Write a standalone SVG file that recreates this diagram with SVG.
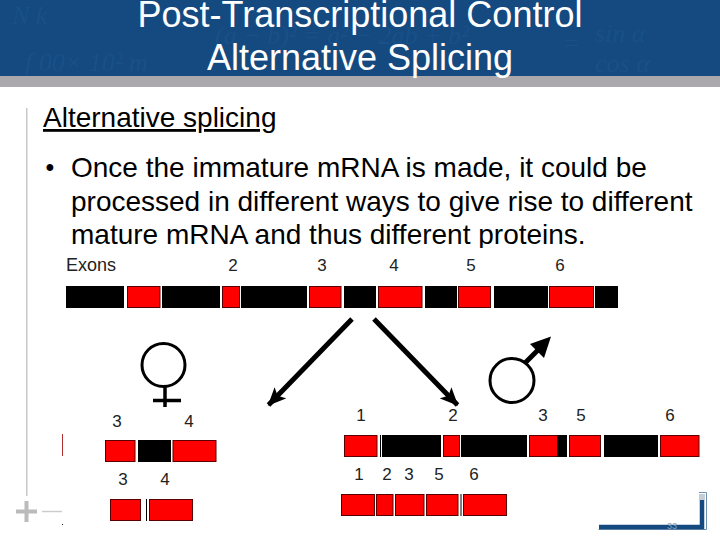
<svg xmlns="http://www.w3.org/2000/svg" width="720" height="540" viewBox="0 0 720 540">
<style>
text{font-family:"Liberation Sans",Arial,sans-serif}
.t{font-size:36px;fill:#fff;text-anchor:middle}
.w{font-family:"Liberation Serif",serif;font-style:italic;font-size:26px;fill:#195088}
.b{font-size:28px;fill:#000}
.n{font-size:17px;fill:#222;text-anchor:middle}
.k{fill:#000}
.r{fill:#f00;stroke:#5a0000;stroke-width:1}
.s{fill:none;stroke:#000;stroke-width:3}
.a{stroke:#000;stroke-width:5;fill:none}
</style>
<defs>
<marker id="h" markerUnits="userSpaceOnUse" markerWidth="20" markerHeight="16" refX="17" refY="8" orient="auto"><path d="M0 0L18 8L0 16L4 8Z" fill="#000"/></marker>
</defs>
<rect width="720" height="540" fill="#fff"/>
<g id="header">
<rect width="720" height="76" fill="#144a80"/>
<rect y="76" width="720" height="11" fill="#aaa8ad"/>
<text class="w" x="12" y="24">N k</text>
<text class="w" x="25" y="71">f 00× 10² m</text>
<text class="w" x="215" y="44">(a − b)² = a² − 2ab + b²</text>
<text class="w" x="595" y="42">sin α</text>
<text class="w" x="562" y="52">=</text>
<text class="w" x="595" y="72">cos α</text>
<text class="t" x="360" y="27">Post-Transcriptional Control</text>
<text class="t" x="360" y="70">Alternative Splicing</text>
</g>
<g id="decor">
<rect x="26" y="108" width="1.5" height="388" fill="#c8c8c8"/>
<path d="M16 511.500H37M26.500 501V522" stroke="#bbb" stroke-width="4" fill="none"/>
<path d="M42 511.500H62" stroke="#ccc" stroke-width="1.500" fill="none"/>
<path d="M598.500 529.500H706.500V492.500H699" stroke="#6f8fb0" stroke-width="1" fill="none"/>
<path d="M599 527H702V494" stroke="#144a80" stroke-width="4.500" fill="none"/>
<rect x="699.500" y="494" width="5" height="6" fill="#c4ccd4"/>
<text x="667" y="529" font-size="9" fill="#8aa2ba">33</text>
</g>
<g id="body">
<text class="b" x="43" y="127" text-decoration="underline">Alternative splicing</text>
<text x="45.500" y="176" font-size="25" fill="#000">•</text>
<text class="b" x="71" y="177">Once the immature mRNA is made, it could be</text>
<text class="b" x="71" y="211">processed in different ways to give rise to different</text>
<text class="b" x="71" y="244">mature mRNA and thus different proteins.</text>
<rect x="40" y="248" width="600" height="14" fill="#fff"/>
</g>
<g id="top-bar">
<text x="66" y="271" font-size="18" fill="#222">Exons</text>
<text class="n" x="233" y="271">2</text><text class="n" x="322" y="271">3</text><text class="n" x="394" y="271">4</text><text class="n" x="471" y="271">5</text><text class="n" x="560" y="271">6</text>
<rect class="k" x="66" y="286" width="58" height="22"/><rect class="r" x="127.500" y="286.500" width="32.500" height="21"/>
<rect class="k" x="162" y="286" width="58" height="22"/><rect class="r" x="222.500" y="286.500" width="17" height="21"/>
<rect class="k" x="241" y="286" width="66" height="22"/><rect class="r" x="309.500" y="286.500" width="31.500" height="21"/>
<rect class="k" x="344" y="286" width="32" height="22"/><rect class="r" x="378.500" y="286.500" width="43.500" height="21"/>
<rect class="k" x="425" y="286" width="32" height="22"/><rect class="r" x="458.500" y="286.500" width="32" height="21"/>
<rect class="k" x="494" y="286" width="54" height="22"/><rect class="r" x="549.500" y="286.500" width="44" height="21"/>
<rect class="k" x="595" y="286" width="23" height="22"/>
</g>
<g id="female-symbol">
<circle class="s" cx="163.500" cy="365" r="21.500"/>
<path d="M165 387V407M153 400.500H181" stroke="#000" stroke-width="3.500" fill="none"/>
</g>
<g id="male-symbol">
<circle class="s" cx="512" cy="380.500" r="22"/>
<path d="M525 363L541 347" stroke="#000" stroke-width="5" fill="none"/>
<path d="M551 336.500L544 358L530 344Z" fill="#000"/>
</g>
<g id="connectors">
<path class="a" d="M352 319L268.500 405" marker-end="url(#h)"/>
<path class="a" d="M374 319L457.500 405" marker-end="url(#h)"/>
</g>
<g id="female-isoforms">
<rect x="62" y="434" width="1" height="22" fill="#b03030"/>
<rect x="62" y="524" width="1" height="1" fill="#222"/>
<text class="n" x="117" y="427">3</text><text class="n" x="189" y="427">4</text>
<rect class="r" x="105.500" y="440.500" width="29.500" height="21"/><rect class="k" x="138" y="440" width="33" height="22"/><rect class="r" x="173" y="440.500" width="43" height="21"/>
<text class="n" x="123" y="485">3</text><text class="n" x="165" y="485">4</text>
<rect class="r" x="110.500" y="499.500" width="30" height="21"/><rect class="k" x="146" y="499" width="1" height="22"/><rect class="r" x="149.500" y="499.500" width="43" height="21"/>
</g>
<g id="male-isoforms">
<text class="n" x="361" y="421">1</text><text class="n" x="453" y="421">2</text><text class="n" x="543" y="421">3</text><text class="n" x="581" y="421">5</text><text class="n" x="670" y="421">6</text>
<rect class="r" x="344.500" y="435.500" width="32.500" height="21"/><rect class="k" x="380" y="435" width="1" height="22"/>
<rect class="k" x="382" y="435" width="59" height="22"/><rect class="r" x="443.500" y="435.500" width="16" height="21"/>
<rect class="k" x="461" y="435" width="66" height="22"/><rect class="r" x="529.500" y="435.500" width="28" height="21"/>
<rect class="k" x="557.500" y="435" width="9.500" height="22"/><rect class="r" x="569.500" y="435.500" width="31" height="21"/>
<rect class="k" x="604" y="435" width="54" height="22"/><rect class="r" x="660.500" y="435.500" width="38.500" height="21"/>
<text class="n" x="359" y="480">1</text><text class="n" x="387" y="480">2</text><text class="n" x="409" y="480">3</text><text class="n" x="439" y="480">5</text><text class="n" x="474" y="480">6</text>
<rect class="r" x="341.500" y="494.500" width="33" height="21"/><rect class="r" x="376.500" y="494.500" width="16.500" height="21"/><rect class="r" x="395.500" y="494.500" width="28.500" height="21"/><rect class="r" x="426.500" y="494.500" width="31.500" height="21"/><rect class="k" x="460.500" y="494" width="1" height="22"/><rect class="r" x="463.500" y="494.500" width="43" height="21"/>
</g>
</svg>
